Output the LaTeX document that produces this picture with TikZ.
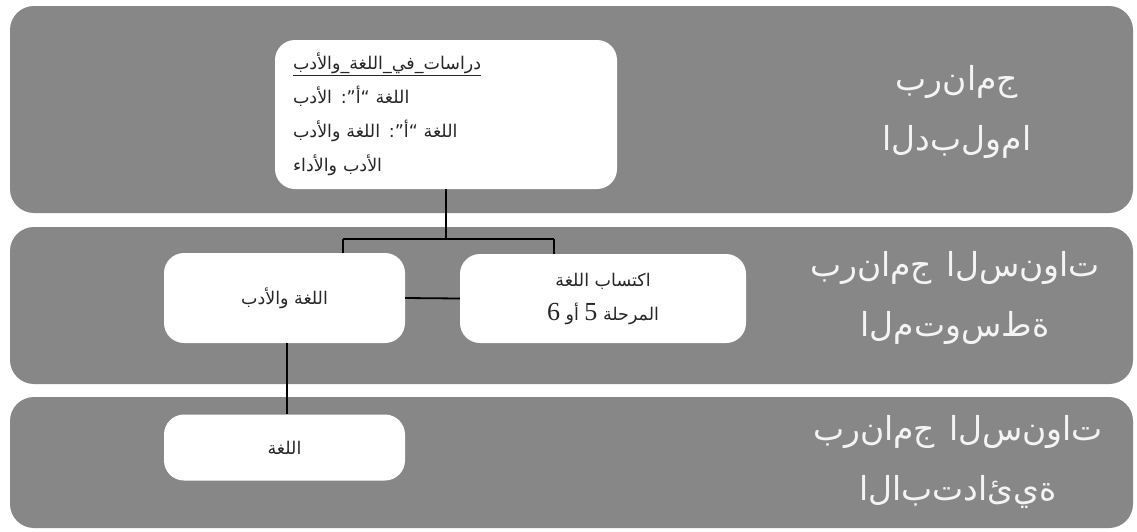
\documentclass[tikz,border=0pt]{standalone}
\usepackage{fontspec}
\newfontfamily\arabicfont[Script=Arabic]{DejaVu Sans}
\newfontfamily\serifnum{Liberation Serif}
\TeXXeTstate=1
\makeatletter
\newcommand\isoword[1]{\@tfor\isoch:=#1\do{\mbox{\isoch}}}
\makeatother
\definecolor{bandgray}{HTML}{878787}
\definecolor{labelwhite}{HTML}{F4F4F4}
\tikzset{
  band/.style={fill=bandgray, draw=none, rounded corners=24pt, inner sep=0pt},
  whitebox/.style={fill=white, draw=none, rounded corners=20pt, inner sep=0pt,
    text=black!85, font=\arabicfont\fontsize{17.5}{34}\selectfont},
  conn/.style={draw=black, line width=1.8pt},
  bandlabel/.style={text=labelwhite, align=center, inner sep=0pt,
    font=\arabicfont\fontsize{33}{60}\selectfont}
}
\begin{document}
\begin{tikzpicture}[x=1pt,y=-1pt]
\useasboundingbox (0,0) rectangle (1137,531);
\fill[white] (0,0) rectangle (1137,531);
% bands
\node[band, minimum width=1123pt, minimum height=207pt] (b1) at (571.5,109.5) {};
\node[band, minimum width=1123pt, minimum height=157pt] (b2) at (571.5,305.5) {};
\node[band, minimum width=1123pt, minimum height=131pt] (b3) at (571.5,462.5) {};
% band labels
\node[bandlabel] (l1) at (957,112) {\isoword{برنامج}\\\isoword{الدبلوما}};
\node[bandlabel] (l2) at (955,298) {\isoword{برنامج}\hspace{14pt}\isoword{السنوات}\\\isoword{المتوسطة}};
\node[bandlabel] (l3) at (958,462) {\isoword{برنامج}\hspace{14pt}\isoword{السنوات}\\\isoword{الابتدائية}};
% boxes
\node[whitebox, minimum width=342pt, minimum height=149pt, text width=306pt, align=left] (top) at (446,114.5)
  {\underline{\beginR دراسات\_في\_اللغة\_والأدب\endR}\\
   \beginR اللغة “أ”: الأدب\endR\\
   \beginR اللغة “أ”: اللغة والأدب\endR\\
   \beginR الأدب والأداء\endR};
\node[whitebox, minimum width=241pt, minimum height=90pt] (langlit) at (284.5,298) {\beginR اللغة والأدب\endR};
\node[whitebox, minimum width=286pt, minimum height=89pt, align=center] (acq) at (603,298.5)
  {\beginR اكتساب اللغة\endR\\
   \beginR المرحلة {\serifnum\fontsize{26}{34}\selectfont 5} أو {\serifnum\fontsize{26}{34}\selectfont 6}\endR};
\node[whitebox, minimum width=241pt, minimum height=66pt] (lang) at (284.5,447.5) {\beginR اللغة\endR};
% connectors
\coordinate (jm) at (446,239);
\coordinate (jl) at (343,239);
\coordinate (jr) at (554,239);
\coordinate (jd) at (287,343);
\draw[conn] (top.south) -- (jm);
\draw[conn] (jl) -- (jr);
\draw[conn] (jl) -- (jl |- langlit.north);
\draw[conn] (jr) -- (jr |- acq.north);
\draw[conn] (langlit.east) -- (acq.west);
\draw[conn] (jd) -- (jd |- lang.north);
\end{tikzpicture}
\end{document}
